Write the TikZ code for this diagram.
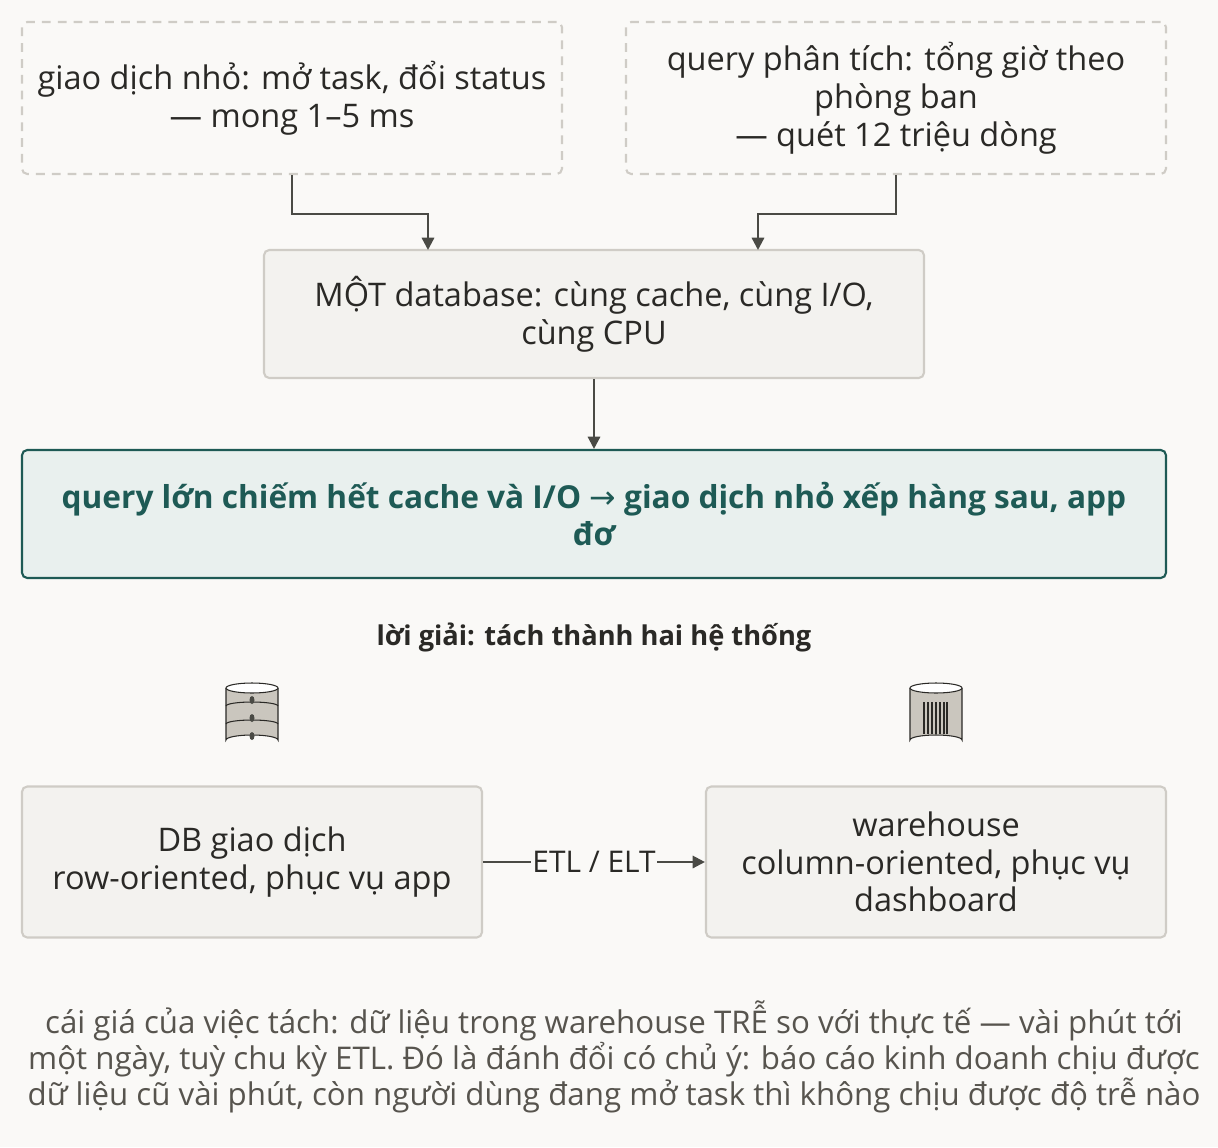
\documentclass[tikz,border=0pt]{standalone}
\usepackage{fontspec}
\setmainfont{Open Sans}
\newfontfamily\symfont{DejaVu Sans}
\usetikzlibrary{positioning, arrows.meta}
\definecolor{bgc}{HTML}{FAF9F7}
\definecolor{boxfill}{HTML}{F3F2EF}
\definecolor{boxline}{HTML}{CFCCC6}
\definecolor{hifill}{HTML}{E9F0EE}
\definecolor{hiline}{HTML}{1E5A55}
\definecolor{arr}{HTML}{4A4A45}
\definecolor{txt}{HTML}{2A2926}
\definecolor{note}{HTML}{57544E}
\definecolor{can}{HTML}{CAC6BE}
\tikzset{
  box/.style={draw=boxline, line width=1.2pt, fill=boxfill, rounded corners=3pt, align=center,
    text=txt, font=\fontsize{18.5}{21.5}\selectfont, inner sep=0pt},
  dbox/.style={box, dashed, dash pattern=on 5pt off 4pt, fill=bgc},
  hibox/.style={box, draw=hiline, fill=hifill, text=hiline, font=\fontsize{18}{21.5}\selectfont\bfseries},
  link/.style={draw=arr, line width=1.3pt, -{Triangle[length=7pt,width=7pt]}}
}
\begin{document}
\begin{tikzpicture}[x=0.02cm, y=-0.02cm]
\fill[bgc] (0,0) rectangle (1218,1147);
\useasboundingbox (0,0) rectangle (1218,1147);

% two kinds of load
\node[dbox, minimum width=540*0.02cm, minimum height=152*0.02cm] (oltp) at (292,98)
  {giao dịch nhỏ: mở task, đổi status\\— mong 1–5 ms};
\node[dbox, minimum width=540*0.02cm, minimum height=152*0.02cm] (olap) at (896,98)
  {query phân tích: tổng giờ theo\\phòng ban\\— quét 12 triệu dòng};

% shared database
\node[box, minimum width=660*0.02cm, minimum height=128*0.02cm] (shared) at (594,314)
  {MỘT database: cùng cache, cùng I/O,\\cùng CPU};
\coordinate (inl) at (428,250);
\coordinate (inr) at (758,250);
\draw[link] (oltp.south) -- ++(0,39) -| (inl);
\draw[link] (olap.south) -- ++(0,39) -| (inr);

% consequence
\node[hibox, minimum width=1144*0.02cm, minimum height=128*0.02cm] (jam) at (594,514)
  {query lớn chiếm hết cache và I/O {\symfont\mdseries →} giao dịch nhỏ xếp hàng sau, app\\đơ};
\draw[link] (shared) -- (jam);

\node[text=txt, font=\fontsize{15.5}{18}\selectfont\bfseries] (fix) at (594,637)
  {lời giải: tách thành hai hệ thống};

% row store icon
\begin{scope}[shift={(252,714)}]
  \fill[can, draw=txt, line width=0.6pt] (-26,-26) -- (-26,26) arc[start angle=180,end angle=360,x radius=26,y radius=5] -- (26,-26);
  \draw[fill=white, draw=txt, line width=0.6pt] (0,-26) ellipse[x radius=26, y radius=5];
  \draw[txt, line width=0.6pt] (-26,-8) arc[start angle=180,end angle=360,x radius=26,y radius=4];
  \draw[txt, line width=0.6pt] (-26,10) arc[start angle=180,end angle=360,x radius=26,y radius=4];
  \foreach \yy in {-14,4,22} \fill[arr] (0,\yy) ellipse[x radius=2.5, y radius=4];
\end{scope}
% column store icon
\begin{scope}[shift={(936,714)}]
  \fill[can, draw=txt, line width=0.6pt] (-26,-26) -- (-26,26) arc[start angle=180,end angle=360,x radius=26,y radius=5] -- (26,-26);
  \draw[fill=white, draw=txt, line width=0.6pt] (0,-26) ellipse[x radius=26, y radius=5];
  \foreach \xx in {-12,-8,-4,0,4,8,11} \draw[txt, line width=1.2pt] (\xx,-12) -- (\xx,20);
\end{scope}

% split systems
\node[box, minimum width=460*0.02cm, minimum height=151*0.02cm] (rowdb) at (252,862)
  {DB giao dịch\\row-oriented, phục vụ app};
\node[box, minimum width=460*0.02cm, minimum height=151*0.02cm] (coldb) at (936,862)
  {warehouse\\column-oriented, phục vụ\\dashboard};
\draw[link] (rowdb) -- node[fill=bgc, inner sep=1pt, text=txt, font=\fontsize{17}{19}\selectfont] {ETL / ELT} (coldb);

\node[text=note, align=center, font=\fontsize{17.8}{20.4}\selectfont] (cost) at (614,1057)
  {cái giá của việc tách: dữ liệu trong warehouse TRỄ so với thực tế — vài phút tới\\
   một ngày, tuỳ chu kỳ ETL. Đó là đánh đổi có chủ ý: báo cáo kinh doanh chịu được\\
   dữ liệu cũ vài phút, còn người dùng đang mở task thì không chịu được độ trễ nào};
\end{tikzpicture}
\end{document}
